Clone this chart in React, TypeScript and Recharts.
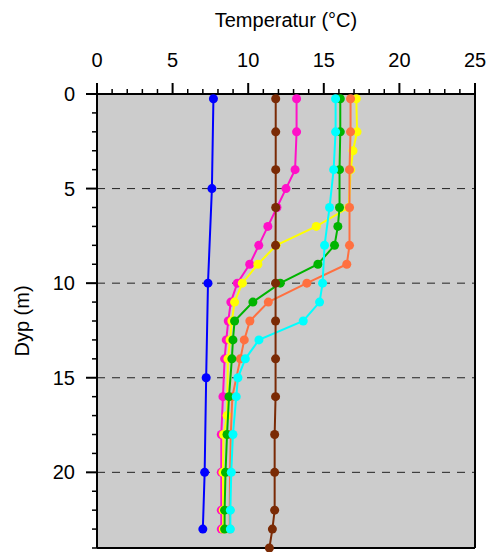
import {
  CartesianGrid,
  ReferenceLine,
  Scatter,
  ScatterChart,
  XAxis,
  YAxis,
  ZAxis,
} from 'recharts';

const FONT = '"Liberation Sans", Arial, sans-serif';

const tempTicks = [0, 1, 2, 3, 4, 5, 6, 7, 8, 9, 10, 11, 12, 13, 14, 15, 16, 17, 18, 19, 20, 21, 22, 23, 24, 25];
const depthTicks = [0, 1, 2, 3, 4, 5, 6, 7, 8, 9, 10, 11, 12, 13, 14, 15, 16, 17, 18, 19, 20, 21, 22, 23, 24];
const dashedDepths = [5, 10, 15, 20];
const tempMax = 25;
const depthMax = 24;

// one profile per colour: depth (m) and temperature (°C)
const magentaDepth = [0.25, 2, 4, 5, 6, 7, 8, 9, 10, 11, 12, 13, 14, 16, 18, 20, 22, 23];
const magentaTemp = [13.2, 13.2, 13.1, 12.5, 11.9, 11.3, 10.7, 10.1, 9.28, 8.85, 8.68, 8.55, 8.44, 8.33, 8.22, 8.22, 8.22, 8.22];

const yellowDepth = [0.25, 2, 3, 4, 6, 7, 8, 9, 10, 11, 12, 13, 14, 17, 18, 20, 22, 23];
const yellowTemp = [17.15, 17.2, 16.93, 16.78, 16.65, 14.5, 11.85, 10.64, 9.61, 9.1, 8.92, 8.8, 8.66, 8.6, 8.37, 8.33, 8.35, 8.35];

const orangeDepth = [0.25, 2, 4, 6, 8, 9, 10, 11, 12, 13, 14, 16, 18, 20, 22, 23];
const orangeTemp = [16.77, 16.77, 16.7, 16.7, 16.7, 16.52, 13.88, 11.33, 10.11, 9.74, 9.48, 8.95, 8.85, 8.8, 8.78, 8.78];

const greenDepth = [0.25, 2, 4, 6, 7, 8, 9, 10, 11, 12, 13, 14, 16, 18, 20, 22, 23];
const greenTemp = [16.09, 16.09, 16.04, 16.04, 15.93, 15.71, 14.61, 12.12, 10.31, 9.1, 8.99, 8.92, 8.73, 8.6, 8.5, 8.44, 8.44];

const cyanDepth = [0.25, 2, 4, 6, 8, 10, 11, 12, 13, 14, 15, 16, 18, 20, 22, 23];
const cyanTemp = [15.78, 15.78, 15.65, 15.38, 15.05, 14.92, 14.72, 13.64, 10.71, 9.81, 9.32, 9.21, 8.99, 8.88, 8.82, 8.82];

const brownDepth = [0.25, 2, 4, 6, 8, 10, 12, 14, 16, 18, 20, 22, 23, 24];
const brownTemp = [11.82, 11.82, 11.82, 11.82, 11.81, 11.81, 11.81, 11.81, 11.81, 11.75, 11.75, 11.75, 11.6, 11.4];

const blueDepth = [0.25, 5, 10, 15, 20, 23];
const blueTemp = [7.7, 7.6, 7.34, 7.22, 7.12, 7.0];

const series = [
  { name: 'magenta', color: '#ff10c8', depth: magentaDepth, temp: magentaTemp },
  { name: 'yellow', color: '#ffff00', depth: yellowDepth, temp: yellowTemp },
  { name: 'orange', color: '#ff7040', depth: orangeDepth, temp: orangeTemp },
  { name: 'green', color: '#00b400', depth: greenDepth, temp: greenTemp },
  { name: 'cyan', color: '#00ffff', depth: cyanDepth, temp: cyanTemp },
  { name: 'brown', color: '#7a2a05', depth: brownDepth, temp: brownTemp },
  { name: 'blue', color: '#0000ff', depth: blueDepth, temp: blueTemp },
];

function TopTick({ x, y, payload }: any) {
  const v = payload.value;
  const major = v % 5 === 0;
  return (
    <g>
      <line x1={x} y1={y} x2={x} y2={y - (major ? 11 : 5)} stroke="#000" strokeWidth={major ? 2 : 1.5} />
      {major && (
        <text x={x} y={y - 27} textAnchor="middle" fontSize={20} fontFamily={FONT} fill="#000">
          {v}
        </text>
      )}
    </g>
  );
}

function LeftTick({ x, y, payload }: any) {
  const v = payload.value;
  const major = v % 5 === 0;
  return (
    <g>
      <line x1={x} y1={y} x2={x - (major ? 11 : 5)} y2={y} stroke="#000" strokeWidth={major ? 2 : 1.5} />
      {major && (
        <text x={x - 22} y={y + 7} textAnchor="end" fontSize={20} fontFamily={FONT} fill="#000">
          {v}
        </text>
      )}
    </g>
  );
}

export default function App() {
  return (
    <div style={{ width: 492, height: 552 }}>
      <style>{'body{margin:0}'}</style>
      <ScatterChart width={492} height={552} margin={{ top: 0, right: 17, bottom: 4, left: 0 }}>
        <CartesianGrid horizontal={false} vertical={false} fill="#cccccc" />
        <XAxis
          type="number"
          dataKey="t"
          orientation="top"
          domain={[0, tempMax]}
          ticks={tempTicks}
          interval={0}
          height={94}
          tickSize={0}
          tickMargin={0}
          tickLine={false}
          tick={<TopTick />}
          axisLine={{ stroke: '#000', strokeWidth: 2 }}
          label={{
            content: ({ viewBox }: any) => (
              <text
                x={viewBox.x + viewBox.width / 2}
                y={viewBox.y + 27}
                textAnchor="middle"
                fontSize={20}
                fontFamily={FONT}
                fill="#000"
              >
                Temperatur (°C)
              </text>
            ),
          }}
        />
        <YAxis
          type="number"
          dataKey="d"
          reversed
          domain={[0, depthMax]}
          ticks={depthTicks}
          interval={0}
          width={97}
          tickSize={0}
          tickMargin={0}
          tickLine={false}
          tick={<LeftTick />}
          axisLine={{ stroke: '#000', strokeWidth: 2 }}
          label={{
            content: ({ viewBox }: any) => {
              const cx = 22;
              const cy = viewBox.y + viewBox.height / 2;
              return (
                <text
                  x={cx}
                  y={cy}
                  transform={`rotate(-90 ${cx} ${cy})`}
                  textAnchor="middle"
                  dominantBaseline="central"
                  fontSize={20}
                  fontFamily={FONT}
                  fill="#000"
                >
                  Dyp (m)
                </text>
              );
            },
          }}
        />
        <ZAxis type="number" range={[64, 64]} />
        {dashedDepths.map((d) => (
          <ReferenceLine key={d} y={d} stroke="#222" strokeWidth={1} strokeDasharray="8 7" />
        ))}
        {/* frame: right and bottom edges */}
        <ReferenceLine x={tempMax} stroke="#000" strokeWidth={2} />
        {series.map((s) => (
          <Scatter
            key={s.name}
            name={s.name}
            data={s.depth.map((d, i) => ({ d, t: s.temp[i] }))}
            fill={s.color}
            line={{ stroke: s.color, strokeWidth: 2 }}
            lineType="joint"
            shape="circle"
            isAnimationActive={false}
          />
        ))}
        <ReferenceLine y={depthMax} stroke="#000" strokeWidth={2} />
      </ScatterChart>
    </div>
  );
}
